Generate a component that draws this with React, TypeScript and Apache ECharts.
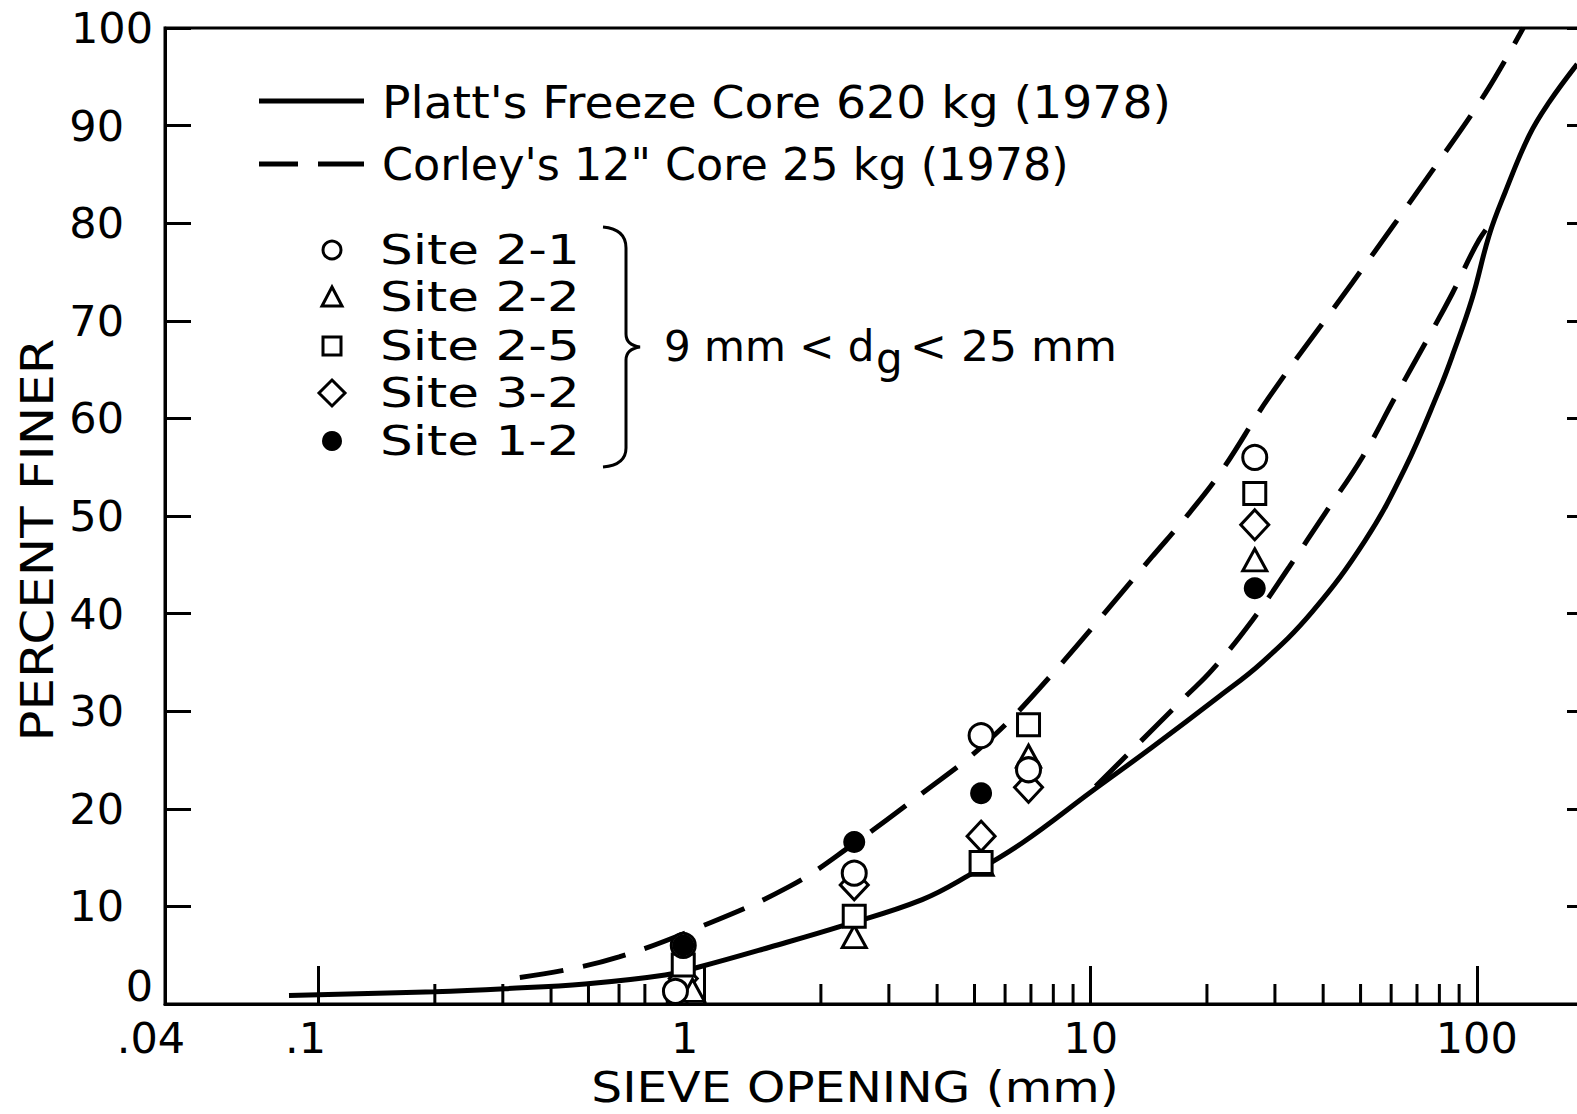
import React, { useEffect, useRef } from "react";
import * as echarts from "echarts";

// ---- data ----
const plattX = [0.0838, 0.2, 0.304, 0.49, 0.79, 0.967, 1.48, 2.27, 3.66, 4.84, 6.64, 10.15, 14.42, 21.5, 27.8, 37.5, 51.4, 65.2, 79.9, 86.4, 97.3, 107.7, 118.5, 136.7, 154, 182];
const plattY = [0.86, 1.26, 1.57, 2.05, 2.97, 3.79, 5.84, 8.0, 10.7, 13.2, 16.5, 21.9, 26.3, 31.5, 35.0, 40.2, 47.5, 54.9, 62.9, 66.4, 72.3, 78.8, 83.2, 89.0, 92.4, 96.3];

const corleyUpperX = [0.332, 0.435, 0.6, 0.93, 1.65, 2.45, 3.66, 5.23, 7.35, 14.4, 18.0, 21.9, 29.0, 47.6, 78.0, 105.2, 131.9];
const corleyUpperY = [2.72, 3.48, 4.82, 7.58, 12.0, 16.5, 21.6, 26.4, 32.3, 45.8, 50.3, 54.7, 62.2, 73.9, 85.8, 93.3, 100];

const corleyLowerX = [10.3, 17.6, 20.6, 26.2, 32.7, 40.5, 50.5, 61.5, 73.5, 86.4, 101.4, 113];
const corleyLowerY = [22.3, 31.5, 34.2, 39.3, 44.8, 50.3, 56.0, 62.2, 67.7, 72.8, 78.3, 80.8];

const site21 = [[0.88, 6.0], [0.84, 1.3], [2.44, 13.4], [5.2, 27.5], [6.9, 24.0], [26.6, 56.0]];
const site22 = [[0.93, 1.4], [2.44, 6.9], [5.2, 14.3], [6.9, 25.4], [26.6, 45.5]];
const site25 = [[0.88, 4.0], [2.44, 9.0], [5.2, 14.5], [6.9, 28.6], [26.6, 52.3]];
const site32 = [[0.88, 2.6], [2.44, 12.2], [5.2, 17.2], [6.9, 22.2], [26.6, 49.1]];
const site12 = [[0.88, 6.0], [2.44, 16.6], [5.2, 21.6], [26.6, 42.6]];

const minorTicks = [0.2, 0.3, 0.4, 0.5, 0.6, 0.7, 0.8, 0.9, 2, 3, 4, 5, 6, 7, 8, 9, 20, 30, 40, 50, 60, 70, 80, 90];
const xTickLabels: [number, string, string][] = [[0.04, ".04", "p04"], [0.1, ".1", "p1"], [1, "1", "one"], [10, "10", "n"], [100, "100", "n"]];

const FONT = '"DejaVu Sans", "Liberation Sans", sans-serif';
const LABEL_SIZE = 43;

const zip = (xs: number[], ys: number[]) => xs.map((x, i) => [x, ys[i]]);

let braceRegistered = false;
function registerBrace() {
  if (braceRegistered) return;
  const d = "M603,227 Q626,229 626,248 L626,334 Q626,345 640,347 Q626,349 626,360 L626,448 Q626,465 603,467";
  echarts.graphic.registerShape("brace", echarts.graphic.extendPath(d, {}));
  braceRegistered = true;
}

const txt = (text: string, x: number, y: number, size: number, scaleX = 1, extra: any = {}) => ({
  type: "text",
  x,
  y,
  scaleX,
  style: {
    text,
    font: `${size}px ${FONT}`,
    fill: "#000",
    align: "left",
    verticalAlign: "middle",
    textAlign: "left",
    textVerticalAlign: "middle",
    ...extra,
  },
});

const hollow = { fill: "#fff", stroke: "#000", lineWidth: 3 };
const lbl = (pad: number[]) => ({ fontSize: LABEL_SIZE, fontFamily: FONT, color: "#000", padding: pad });

export default function App() {
  const ref = useRef<HTMLDivElement>(null);
  useEffect(() => {
    document.documentElement.style.overflow = "hidden";
    document.body.style.margin = "0";
    document.body.style.overflow = "hidden";
    registerBrace();
    const chart = echarts.init(ref.current!, null, { renderer: "svg" });
    const markerStyle = { color: "#fff", borderColor: "#000", borderWidth: 3, opacity: 1 };
    chart.setOption({
      animation: false,
      backgroundColor: "#fff",
      grid: {
        left: 165,
        top: 28,
        bottom: 110,
        right: 7,
        show: true,
        borderColor: "#000",
        borderWidth: 3,
        backgroundColor: "transparent",
      },
      xAxis: {
        type: "log",
        logBase: 10,
        min: 0.04,
        max: 200,
        axisLine: { show: true, lineStyle: { color: "#000", width: 3 } },
        axisTick: { show: true, inside: true, length: 38, lineStyle: { color: "#000", width: 3 } },
        splitLine: { show: false },
        axisLabel: {
          show: true,
          showMinLabel: true,
          showMaxLabel: false,
          margin: 12,
          color: "#000",
          fontSize: LABEL_SIZE,
          fontFamily: FONT,
          formatter: (v: number) => {
            for (const [tv, lab, st] of xTickLabels) {
              if (Math.abs(v - tv) / tv < 1e-4) return `{${st}|${lab}}`;
            }
            return "";
          },
          rich: {
            p04: lbl([0, 28, 0, 0]),
            p1: lbl([0, 26, 0, 0]),
            one: lbl([0, 40, 0, 0]),
            n: lbl([0, 0, 0, 0]),
          },
        },
      },
      yAxis: [
        {
          type: "value",
          min: 0,
          max: 100,
          interval: 10,
          axisLine: { show: true, lineStyle: { color: "#000", width: 3 } },
          axisTick: { show: true, inside: true, length: 26, lineStyle: { color: "#000", width: 3 } },
          splitLine: { show: false },
          axisLabel: {
            margin: 12,
            color: "#000",
            fontSize: LABEL_SIZE,
            fontFamily: FONT,
            formatter: (v: number) => (v === 0 ? `{z|0}` : v === 100 ? `{e|${v}}` : `{m|${v}}`),
            rich: { z: lbl([0, 0, 36, 0]), e: lbl([0, 0, 0, 0]), m: lbl([0, 29, 0, 0]) },
          },
        },
        {
          type: "value",
          position: "right",
          min: 0,
          max: 100,
          interval: 10,
          axisLine: { show: true, lineStyle: { color: "#000", width: 3 } },
          axisTick: { show: true, inside: true, length: 26, lineStyle: { color: "#000", width: 3 } },
          splitLine: { show: false },
          axisLabel: { show: false },
        },
      ],
      series: [
        {
          type: "custom",
          name: "minorTicks",
          data: minorTicks.map((v) => [v, 0]),
          renderItem: (params: any, api: any) => {
            const p = api.coord([api.value(0), 0]);
            return {
              type: "line",
              shape: { x1: p[0], y1: p[1], x2: p[0], y2: p[1] - 20 },
              style: { stroke: "#000", lineWidth: 3 },
            };
          },
          silent: true,
          z: 1,
        },
        {
          type: "line",
          name: "Platt's Freeze Core 620 kg (1978)",
          data: zip(plattX, plattY),
          showSymbol: false,
          smooth: 0.4,
          lineStyle: { color: "#000", width: 5 },
          z: 2,
        },
        {
          type: "line",
          name: "Corley's 12\" Core 25 kg (1978)",
          data: zip(corleyUpperX, corleyUpperY),
          showSymbol: false,
          smooth: 0.4,
          lineStyle: { color: "#000", width: 5, type: [44, 20] },
          z: 2,
        },
        {
          type: "line",
          name: "Corley's 12\" Core 25 kg (1978) lower",
          data: zip(corleyLowerX, corleyLowerY),
          showSymbol: false,
          smooth: 0.4,
          lineStyle: { color: "#000", width: 5, type: [44, 20] },
          z: 2,
        },
        { type: "scatter", name: "Site 3-2", data: site32, symbol: "diamond", symbolSize: [28, 30], itemStyle: markerStyle, z: 3 },
        { type: "scatter", name: "Site 2-2", data: site22, symbol: "triangle", symbolSize: [24, 22], itemStyle: markerStyle, z: 3 },
        { type: "scatter", name: "Site 2-5", data: site25, symbol: "rect", symbolSize: [22, 22], itemStyle: markerStyle, z: 3 },
        { type: "scatter", name: "Site 2-1", data: site21, symbol: "circle", symbolSize: 24, itemStyle: markerStyle, z: 3 },
        { type: "scatter", name: "Site 1-2", data: site12, symbol: "circle", symbolSize: 22, itemStyle: { color: "#000", opacity: 1 }, z: 4 },
      ],
      graphic: [
        { type: "line", shape: { x1: 259, y1: 101, x2: 364, y2: 101 }, style: { stroke: "#000", lineWidth: 5 } },
        { type: "line", shape: { x1: 259, y1: 164, x2: 298, y2: 164 }, style: { stroke: "#000", lineWidth: 5 } },
        { type: "line", shape: { x1: 318, y1: 164, x2: 364, y2: 164 }, style: { stroke: "#000", lineWidth: 5 } },
        txt("Platt's Freeze Core 620 kg (1978)", 382, 103, 44, 1.075),
        txt("Corley's 12\" Core 25 kg (1978)", 382, 165, 44, 1.01),
        { type: "circle", shape: { cx: 332, cy: 250, r: 9 }, style: hollow },
        { type: "polygon", shape: { points: [[332, 287], [342, 306], [322, 306]] }, style: hollow },
        { type: "rect", shape: { x: 323, y: 337, width: 18, height: 18 }, style: hollow },
        { type: "polygon", shape: { points: [[332, 380], [345, 393], [332, 406], [319, 393]] }, style: hollow },
        { type: "circle", shape: { cx: 332, cy: 441, r: 10 }, style: { fill: "#000" } },
        txt("Site 2-1", 380, 250, 40, 1.29),
        txt("Site 2-2", 380, 297, 40, 1.29),
        txt("Site 2-5", 380, 346, 40, 1.29),
        txt("Site 3-2", 380, 393, 40, 1.29),
        txt("Site 1-2", 380, 441, 40, 1.29),
        { type: "brace", x: 0, y: 0, style: { fill: "none", stroke: "#000", lineWidth: 3 } },
        txt("9 mm < d", 664, 346, 42),
        txt("g", 876, 358, 42),
        txt("< 25 mm", 910, 346, 42, 1.05),
        {
          type: "text",
          x: 38,
          y: 540,
          rotation: Math.PI / 2,
          scaleX: 1.17,
          style: {
            text: "PERCENT FINER",
            font: `44px ${FONT}`,
            fill: "#000",
            align: "center",
            verticalAlign: "middle",
            textAlign: "center",
            textVerticalAlign: "middle",
          },
        },
        {
          type: "text",
          x: 855,
          y: 1088,
          scaleX: 1.16,
          style: {
            text: "SIEVE OPENING (mm)",
            font: `42px ${FONT}`,
            fill: "#000",
            align: "center",
            verticalAlign: "middle",
            textAlign: "center",
            textVerticalAlign: "middle",
          },
        },
      ],
    });
    return () => chart.dispose();
  }, []);
  return <div ref={ref} style={{ width: 1600, height: 1114 }} />;
}
